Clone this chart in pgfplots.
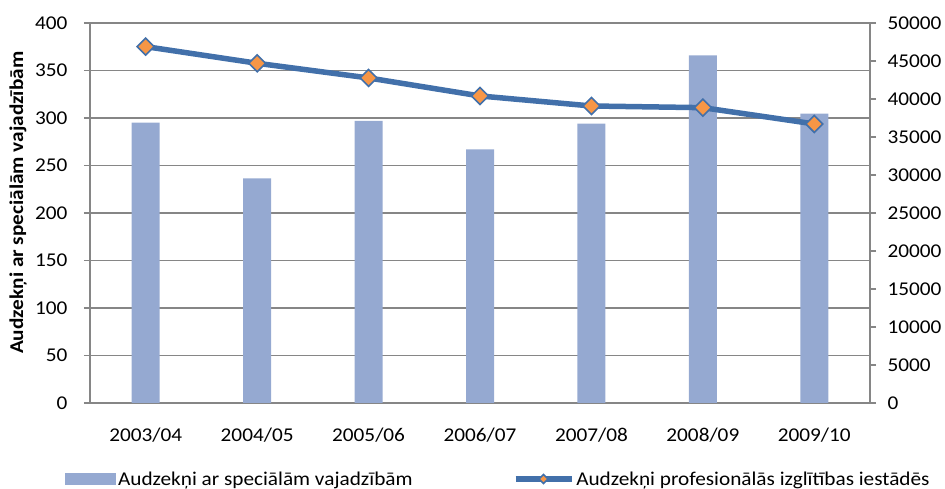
\documentclass[border=0pt]{standalone}
\usepackage{fontspec}
\setmainfont{Carlito}[FakeStretch=1.09]
\usepackage{pgfplots}
\pgfplotsset{compat=1.18}
\definecolor{barc}{HTML}{95A9D1}
\definecolor{linec}{HTML}{4270AA}
\definecolor{markc}{HTML}{F79646}
\definecolor{gridc}{HTML}{868686}

\pgfplotsset{
  base/.style={
    at={(90pt,86pt)}, anchor=south west,
    width=780pt, height=380pt, scale only axis,
    xmin=-0.5, xmax=6.5,
    tick label style={font=\fontsize{19.5}{23}\selectfont},
    /pgf/number format/assume math mode=true,
    axis line style={gridc, line width=1.2pt},
    tick style={gridc, line width=1.2pt},
    tick align=outside, major tick length=6pt,
    legend style={draw=none, fill=none, inner sep=0pt, outer sep=0pt,
      font=\fontsize{19.5}{23}\selectfont, nodes={inner sep=2pt}},
  },
  longline/.style={
    legend image code/.code={\draw[##1, mark repeat=2, mark phase=2, mark size=3.2pt] plot coordinates {(0pt,0pt) (28pt,0pt) (56pt,0pt)};}
  },
  barbox/.style={
    legend image code/.code={\fill[barc] (0pt,-6pt) rectangle (51pt,6pt);}
  },
}

\begin{document}
\begin{tikzpicture}[x=1pt,y=1pt]
\path[use as bounding box] (0,0) rectangle (945,489);
\begin{axis}[base,
  ymin=0, ymax=400, ytick={0,50,...,400},
  xtick={0,...,6},
  xticklabels={2003/04,2004/05,2005/06,2006/07,2007/08,2008/09,2009/10},
  xtick style={draw=none},
  xticklabel style={yshift=-15pt},
  yticklabel style={xshift=-13pt},
  axis y line*=left, axis x line*=bottom,
  ymajorgrids, grid style={gridc, line width=1.2pt},
  ylabel={\bfseries Audzekņi ar speciālām vajadzībām},
  ylabel style={font=\fontsize{19.5}{23}\selectfont, at={(axis description cs:-0.0923,0.527)}, anchor=center},
  legend style={at={(-0.032,-0.2)}, anchor=west},
]
\addplot[ybar, bar width=28pt, fill=barc, draw=none, barbox] coordinates {
  (0,295) (1,236.5) (2,297) (3,267) (4,294) (5,366) (6,304.5)
};
\addlegendentry{Audzekņi ar speciālām vajadzībām}
\end{axis}
\begin{axis}[base,
  ymin=0, ymax=50000, ytick={0,5000,...,50000},
  axis y line*=right, axis x line=none,
  scaled y ticks=false,
  yticklabel style={xshift=8pt, /pgf/number format/fixed, /pgf/number format/1000 sep={}},
  legend style={at={(1.079,-0.2)}, anchor=east},
]
\addplot[linec, line width=5.5pt, mark=square*, mark size=6pt,
  mark options={rotate=45, fill=markc, draw=linec, line width=1.6pt},
  longline]
  coordinates {
  (0,46890) (1,44700) (2,42770) (3,40400) (4,39080) (5,38860) (6,36720)
};
\addlegendentry{Audzekņi profesionālās izglītības iestādēs}
\end{axis}
\end{tikzpicture}
\end{document}
